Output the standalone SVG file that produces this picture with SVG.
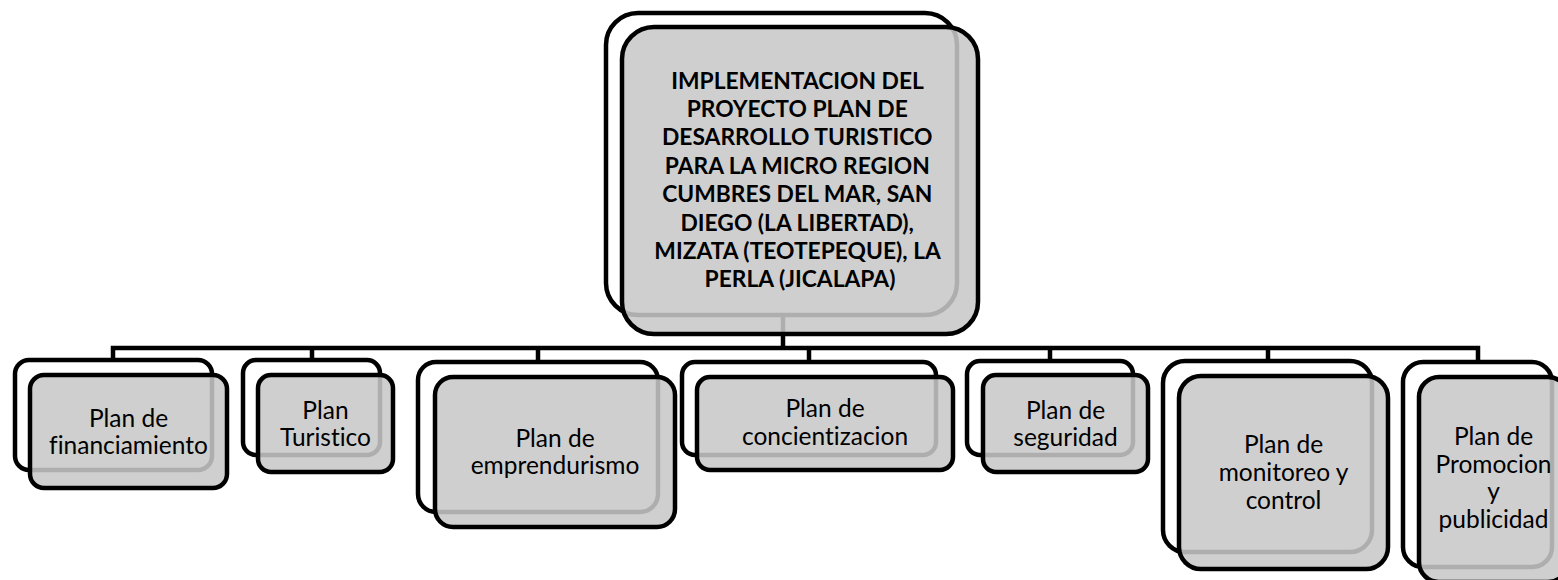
<svg xmlns="http://www.w3.org/2000/svg" width="1558" height="580" viewBox="0 0 1558 580">
  <style>
    .back { fill: #ffffff; stroke: #000000; stroke-width: 4.5; }
    .front { fill: #c8c8c8; fill-opacity: 0.87; stroke: #000000; stroke-width: 4.5; }
    .conn { fill: none; stroke: #000000; stroke-width: 4.5; stroke-linecap: butt; stroke-linejoin: miter; }
    .t { font-family: Lato, "Liberation Sans", sans-serif; font-size: 24.5px; fill: #000000; text-anchor: middle; font-variant-ligatures: none; }
    .tb { font-family: Lato, "Liberation Sans", sans-serif; font-size: 22.8px; font-weight: bold; fill: #000000; text-anchor: middle; font-variant-ligatures: none; }
  </style>
  <rect x="0" y="0" width="1558" height="580" fill="#ffffff"/>
  <g id="connectors">
    <path class="conn" d="M783 315 V348"/>
    <path class="conn" d="M113 361 V348 H1478 V361"/>
    <path class="conn" d="M312 348 V361"/>
    <path class="conn" d="M538 348 V362"/>
    <path class="conn" d="M809 348 V362"/>
    <path class="conn" d="M1050 348 V361"/>
    <path class="conn" d="M1268 348 V361"/>
  </g>
  <g id="node-root">
    <rect class="back" x="606" y="13" width="351" height="302" rx="32"/>
    <rect class="front" x="622" y="27" width="356" height="307" rx="32"/>
    <text class="tb">
      <tspan x="800" y="88.5">IMPLEMENTACION DEL</tspan>
      <tspan x="800" y="116.9">PROYECTO PLAN DE</tspan>
      <tspan x="800" y="145.3">DESARROLLO TURISTICO</tspan>
      <tspan x="800" y="173.7">PARA LA MICRO REGION</tspan>
      <tspan x="800" y="202.1">CUMBRES DEL MAR, SAN</tspan>
      <tspan x="800" y="230.5">DIEGO (LA LIBERTAD),</tspan>
      <tspan x="800" y="258.9">MIZATA (TEOTEPEQUE), LA</tspan>
      <tspan x="800" y="287.3">PERLA (JICALAPA)</tspan>
    </text>
  </g>
  <g id="node-financiamiento">
    <rect class="back" x="15" y="360" width="197" height="110" rx="14"/>
    <rect class="front" x="30" y="375" width="197" height="113" rx="14"/>
    <text class="t"><tspan x="128.5" y="426.5">Plan de</tspan><tspan x="128.5" y="454">financiamiento</tspan></text>
  </g>
  <g id="node-turistico">
    <rect class="back" x="243" y="360" width="137" height="95" rx="13"/>
    <rect class="front" x="258" y="375" width="135" height="97" rx="13"/>
    <text class="t"><tspan x="325.5" y="418.5">Plan</tspan><tspan x="325.5" y="446">Turistico</tspan></text>
  </g>
  <g id="node-emprendurismo">
    <rect class="back" x="418" y="362" width="240" height="150" rx="18"/>
    <rect class="front" x="435" y="377" width="240" height="150" rx="18"/>
    <text class="t"><tspan x="555" y="447">Plan de</tspan><tspan x="555" y="474">emprendurismo</tspan></text>
  </g>
  <g id="node-concientizacion">
    <rect class="back" x="682" y="362" width="254" height="93" rx="13"/>
    <rect class="front" x="697" y="377" width="256" height="93" rx="13"/>
    <text class="t"><tspan x="825" y="417">Plan de</tspan><tspan x="825" y="445">concientizacion</tspan></text>
  </g>
  <g id="node-seguridad">
    <rect class="back" x="967" y="361" width="166" height="94" rx="13"/>
    <rect class="front" x="983" y="375" width="165" height="97" rx="13"/>
    <text class="t"><tspan x="1065.5" y="418.5">Plan de</tspan><tspan x="1065.5" y="446">seguridad</tspan></text>
  </g>
  <g id="node-monitoreo">
    <rect class="back" x="1163" y="361" width="209" height="191" rx="22"/>
    <rect class="front" x="1179" y="376" width="209" height="193" rx="22"/>
    <text class="t"><tspan x="1283.5" y="453">Plan de</tspan><tspan x="1283.5" y="481">monitoreo y</tspan><tspan x="1283.5" y="509">control</tspan></text>
  </g>
  <g id="node-promocion">
    <rect class="back" x="1403" y="362" width="149" height="205" rx="20"/>
    <rect class="front" x="1419" y="377" width="149" height="205" rx="20"/>
    <text class="t"><tspan x="1493.5" y="445">Plan de</tspan><tspan x="1493.5" y="472.5">Promocion</tspan><tspan x="1493.5" y="500">y</tspan><tspan x="1493.5" y="527.5">publicidad</tspan></text>
  </g>
</svg>
